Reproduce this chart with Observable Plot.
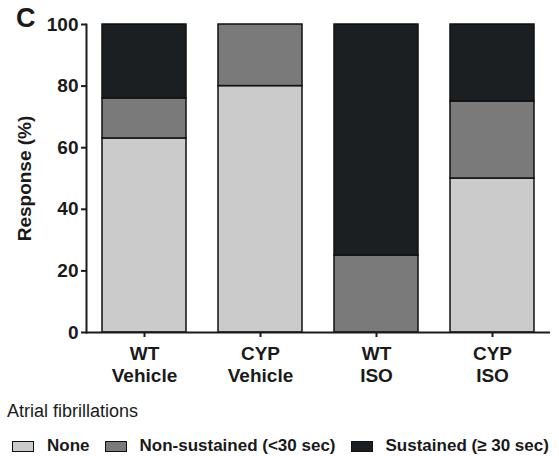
<!DOCTYPE html>
<html>
<head>
<meta charset="utf-8">
<script src="https://cdn.jsdelivr.net/npm/d3@7"></script>
<script src="https://cdn.jsdelivr.net/npm/@observablehq/plot@0.6"></script>
<style>
  body { margin: 0; background: #ffffff; }
  #wrap { position: relative; width: 559px; height: 456px; font-family: "Liberation Sans", Arial, sans-serif; color: #1a1a1a; }
  #panel { position: absolute; left: 16px; top: 3px; font-size: 27px; font-weight: bold; }
  #chart { position: absolute; left: 0; top: 0; }
  #ltitle { position: absolute; left: 7px; top: 401px; font-size: 18px; }
  #legend { position: absolute; left: 12px; top: 436px; display: flex; align-items: center; font-size: 17px; font-weight: bold; white-space: nowrap; }
  .sw { width: 20px; height: 9px; border: 1.5px solid #111; margin-right: 13px; }
  .item { display: flex; align-items: center; margin-right: 15px; }
</style>
</head>
<body>
<div id="wrap">
  <div id="chart"></div>
  <div id="panel">C</div>
  <div id="ltitle">Atrial fibrillations</div>
  <div id="legend"></div>
</div>
<script>
const groups = ["WT\nVehicle", "CYP\nVehicle", "WT\nISO", "CYP\nISO"];
const seriesNames = ["None", "Non-sustained (<30 sec)", "Sustained (≥ 30 sec)"];
const noneValues = [63, 80, 0, 50];
const nonSustainedValues = [13, 20, 25, 25];
const sustainedValues = [24, 0, 75, 25];
const yTicks = [0, 20, 40, 60, 80, 100];
const colors = ["#cbcbcc", "#7a7a7b", "#1c1f21"];

const seriesValues = [noneValues, nonSustainedValues, sustainedValues];
const data = [];
groups.forEach((g, i) => {
  seriesNames.forEach((s, j) => {
    data.push({group: g, series: s, value: seriesValues[j][i]});
  });
});

const chart = Plot.plot({
  width: 559,
  height: 395,
  marginTop: 24,
  marginBottom: 63,
  marginLeft: 86,
  marginRight: 9,
  style: {fontFamily: "'Liberation Sans', Arial, sans-serif", fontSize: "19px", fontWeight: "bold", color: "#1a1a1a", background: "transparent"},
  x: {domain: groups, paddingInner: 0.28, paddingOuter: 0.138, label: null},
  y: {domain: [0, 100], label: null},
  color: {domain: seriesNames, range: colors},
  marks: [
    Plot.barY(data, {x: "group", y: "value", fill: "series", stroke: "#111", strokeWidth: 1.5, order: seriesNames}),
    Plot.axisY({ticks: yTicks, tickSize: 5, tickPadding: 3, strokeWidth: 2, stroke: "#1a1a1a", fontSize: 19, fontWeight: "bold",
      label: "Response (%)", labelAnchor: "center", labelArrow: "none", labelOffset: 69}),
    Plot.axisX({tickSize: 5, tickPadding: 7, strokeWidth: 2, stroke: "#1a1a1a", fontSize: 19, fontWeight: "bold", lineHeight: 1.15, label: null}),
    Plot.ruleY([0], {stroke: "#1a1a1a", strokeWidth: 2}),
    Plot.frame({anchor: "left", stroke: "#1a1a1a", strokeWidth: 2})
  ]
});
document.getElementById("chart").appendChild(chart);

const legend = document.getElementById("legend");
seriesNames.forEach((s, j) => {
  const item = document.createElement("div");
  item.className = "item";
  const sw = document.createElement("div");
  sw.className = "sw";
  sw.style.background = colors[j];
  const t = document.createElement("span");
  t.textContent = s;
  item.appendChild(sw);
  item.appendChild(t);
  legend.appendChild(item);
});
</script>
</body>
</html>
